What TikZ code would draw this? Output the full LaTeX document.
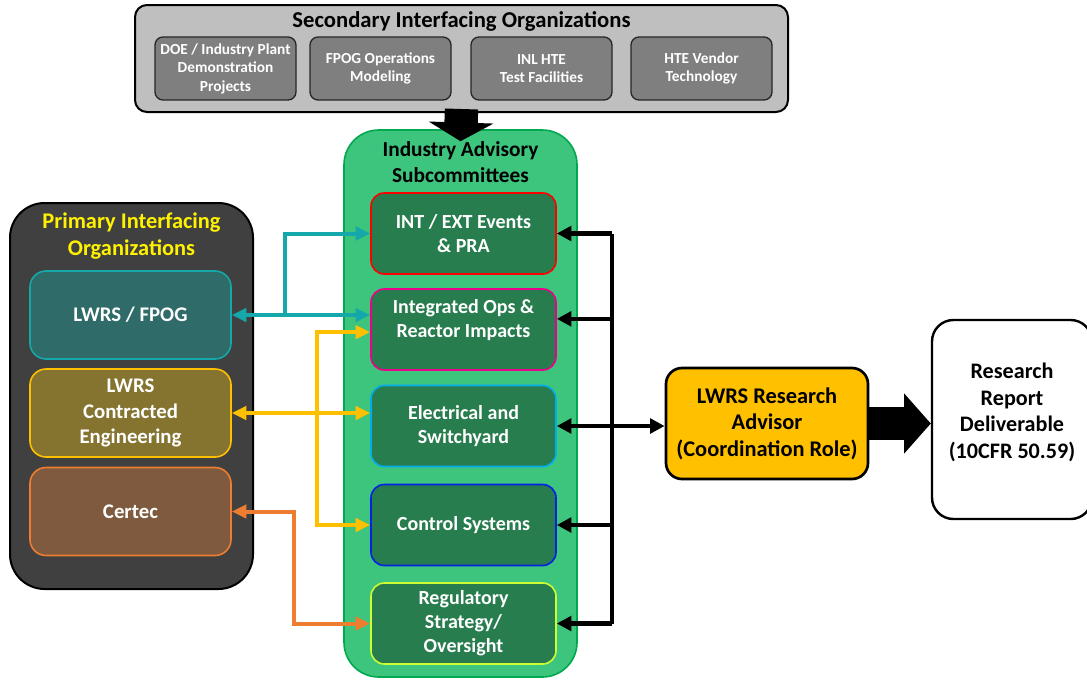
\documentclass[tikz,border=0pt]{standalone}
\usepackage{fontspec}
\setmainfont{Carlito}
\usepackage{xcolor}
\definecolor{secGray}{RGB}{191, 191, 191}
\definecolor{orgGray}{RGB}{127, 127, 127}
\definecolor{advGreen}{RGB}{61, 196, 125}
\definecolor{advGreenLine}{RGB}{0, 168, 80}
\definecolor{subGreen}{RGB}{40, 125, 78}
\definecolor{primDark}{RGB}{64, 64, 64}
\definecolor{fpogFill}{RGB}{46, 107, 105}
\definecolor{linkTeal}{RGB}{20, 168, 170}
\definecolor{engFill}{RGB}{133, 115, 48}
\definecolor{linkGold}{RGB}{255, 192, 0}
\definecolor{certFill}{RGB}{127, 90, 62}
\definecolor{linkOrange}{RGB}{237, 125, 49}
\definecolor{regLine}{RGB}{204, 255, 51}
\definecolor{ctrlLine}{RGB}{0, 32, 230}
\usetikzlibrary{arrows.meta, positioning, calc}

\begin{document}
\begin{tikzpicture}[
    x=0.75pt, y=-0.75pt,
    groupBox/.style={
        rectangle, rounded corners=26pt,
        draw=black, line width=1.5pt
    },
    groupTitle/.style={
        align=center, font=\bfseries\fontsize{16.8}{20}\selectfont, inner sep=0pt
    },
    orgBox/.style={
        rectangle, rounded corners=6pt,
        draw=black!85, line width=1pt,
        fill=orgGray, text=white,
        align=center, font=\bfseries\fontsize{11.5}{13.9}\selectfont,
        inner sep=2pt, minimum width=105.75pt, minimum height=47.25pt
    },
    subBox/.style={
        rectangle, rounded corners=10pt,
        line width=1.2pt,
        fill=subGreen, text=white,
        align=center, font=\bfseries\fontsize{15}{18}\selectfont,
        inner sep=2pt, minimum width=138.75pt, minimum height=60.75pt
    },
    primaryBox/.style={
        rectangle, rounded corners=12pt,
        line width=1.2pt, text=white,
        align=center, font=\bfseries\fontsize{15.6}{19}\selectfont,
        inner sep=2pt, minimum width=150.75pt, minimum height=66pt
    },
    linkArrow/.style={
        line width=3pt, {Triangle[length=11pt, width=10pt]}-{Triangle[length=11pt, width=10pt]}
    },
    branchArrow/.style={
        line width=3pt, -{Triangle[length=11pt, width=10pt]}
    },
    busLine/.style={
        line width=3.5pt, draw=black
    },
    busArrow/.style={
        line width=3.5pt, draw=black, -{Triangle[length=11pt, width=11pt]}
    },
    blockArrow/.style={
        line width=25pt, draw=black, -{Triangle[length=14pt, width=48pt]}
    }
]
    \useasboundingbox (0,0) rectangle (1087,679);

    % Top: Secondary Interfacing Organizations
    \node[groupBox, rounded corners=9pt, fill=secGray, minimum width=489.75pt, minimum height=80.25pt] (secondary) at (461.5,58.5) {};
    \node[groupTitle, font=\bfseries\fontsize{17}{20}\selectfont] (secondaryTitle) at (461.5,21) {Secondary Interfacing Organizations};

    \node[orgBox] (doe) at (225.5,68.5) {DOE / Industry Plant\\Demonstration\\Projects};
    \node[orgBox] (fpogModel) at (380.5,68.5) {FPOG Operations\\Modeling};
    \node[orgBox] (inlHte) at (541.5,68.5) {INL HTE\\Test Facilities};
    \node[orgBox] (hteVendor) at (701.5,68.5) {HTE Vendor\\Technology};

    % Center: Industry Advisory Subcommittees
    \node[groupBox, draw=advGreenLine, line width=1.2pt, fill=advGreen, minimum width=174.75pt, minimum height=410.25pt] (advisory) at (460.5,403.5) {};
    \node[groupTitle, font=\bfseries\fontsize{16}{19}\selectfont] (advisoryTitle) at (460.5,162) {Industry Advisory\\Subcommittees};

    \node[subBox, draw=red] (events) at (463.5,233.5) {INT / EXT Events\\\& PRA};
    \node[subBox, draw=magenta] (integrated) at (463.5,329.5) {Integrated Ops \&\\Reactor Impacts\\[-2pt]\vphantom{X}};
    \node[subBox, draw=cyan] (electrical) at (463.5,426) {Electrical and\\Switchyard};
    \node[subBox, draw=ctrlLine] (control) at (463.5,525) {Control Systems};
    \node[subBox, draw=regLine] (regulatory) at (463.5,623.5) {Regulatory\\Strategy/\\Oversight};

    % Left: Primary Interfacing Organizations
    \node[groupBox, fill=primDark, minimum width=182.25pt, minimum height=289.5pt] (primary) at (131.5,396) {};
    \node[groupTitle, text=yellow] (primaryTitle) at (131.5,236) {Primary Interfacing\\Organizations};

    \node[primaryBox, draw=linkTeal, fill=fpogFill] (fpog) at (130.5,315) {LWRS / FPOG};
    \node[primaryBox, draw=linkGold, fill=engFill] (contracted) at (130.5,413) {LWRS\\Contracted\\Engineering};
    \node[primaryBox, draw=linkOrange, fill=certFill] (certec) at (130.5,511.5) {Certec};

    % Right: Advisor and Deliverable
    \node[rectangle, rounded corners=12pt, draw=black, line width=2pt, fill=linkGold,
        align=center, font=\bfseries\fontsize{16.8}{20}\selectfont,
        minimum width=151.5pt, minimum height=83.25pt] (advisor) at (767,423.5)
        {LWRS Research\\Advisor\\(Coordination Role)};
    \node[rectangle, rounded corners=16pt, draw=black, line width=1.8pt, fill=white,
        align=center, font=\bfseries\fontsize{16.6}{20}\selectfont,
        minimum width=120pt, minimum height=149.25pt] (report) at (1012,419.5)
        {Research\\Report\\Deliverable\\(10CFR 50.59)\\[-7pt]\vphantom{X}};

    % Connectors
    \draw[blockArrow] ([yshift=3pt]secondary.south) -- ([yshift=-9pt]advisory.north);

    \coordinate (tealSplit) at (285,315);
    \draw[linkArrow, draw=linkTeal] (fpog.east) -- (fpog.east -| integrated.west);
    \draw[branchArrow, draw=linkTeal] (tealSplit) |- (events.west);

    \coordinate (goldSplit) at (317,413);
    \draw[linkArrow, draw=linkGold] (contracted.east) -- (contracted.east -| electrical.west);
    \draw[branchArrow, draw=linkGold] (goldSplit) |- ([yshift=-2pt]integrated.west);
    \draw[branchArrow, draw=linkGold] (goldSplit) |- (control.west);

    \coordinate (orangeBend) at (294,511.5);
    \draw[linkArrow, draw=linkOrange] (certec.east) -- (orangeBend) |- (regulatory.west);

    \coordinate (busTop) at (612,233.5);
    \draw[busLine] (busTop) -- (busTop |- regulatory.east);
    \draw[busArrow] (busTop) -- (events.east);
    \draw[busArrow] ([yshift=8pt]integrated.east -| busTop) -- ([yshift=8pt]integrated.east);
    \draw[busArrow] (control.east -| busTop) -- (control.east);
    \draw[busArrow] (regulatory.east -| busTop) -- (regulatory.east);
    \draw[busArrow, {Triangle[length=11pt, width=11pt]}-{Triangle[length=11pt, width=11pt]}] (electrical.east) -- (electrical.east -| advisor.west);

    \draw[blockArrow, -{Triangle[length=20pt, width=44pt]}] (advisor.east) -- (advisor.east -| report.west);

\end{tikzpicture}
\end{document}
